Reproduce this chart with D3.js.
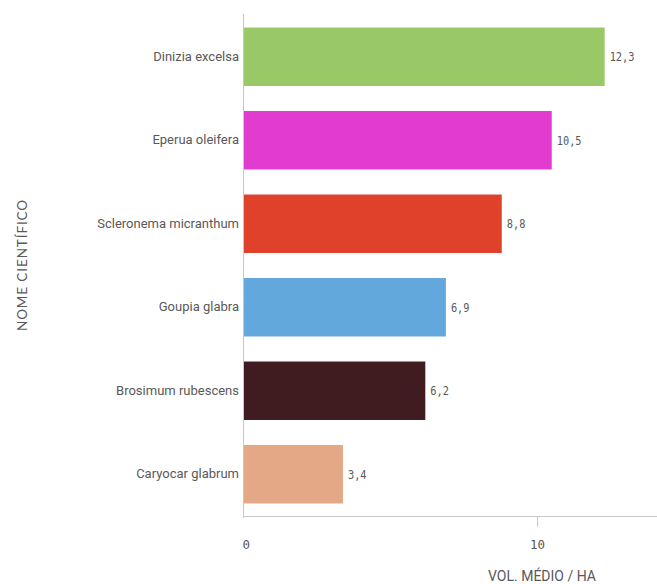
<!DOCTYPE html>
<html><head><meta charset="utf-8">
<script src="https://cdn.jsdelivr.net/npm/d3@7"></script>
<style>body{margin:0;background:#fff}</style>
</head><body>
<svg id="c" width="657" height="584"></svg>
<script>
const categories = ["Dinizia excelsa","Eperua oleifera","Scleronema micranthum","Goupia glabra","Brosimum rubescens","Caryocar glabrum"];
const values = [12.3, 10.5, 8.8, 6.9, 6.2, 3.4];
const valueLabels = ["12,3","10,5","8,8","6,9","6,2","3,4"];
const colors = ["#99c866","#e23bd0","#e0412a","#63a8dc","#401b20","#e5a887"];
const tickValues = [0, 10];
const xTitle = "VOL. MÉDIO / HA";
const yTitle = "NOME CIENTÍFICO";

const svg = d3.select("#c");
const x = d3.scaleLinear().domain([0, 14.08]).range([243, 657]);
const y = d3.scaleBand().domain(categories).range([15, 516]).paddingInner(0.3).paddingOuter(0.15);
const gray = "#595959";
const labelFont = "'Roboto',sans-serif";
const monoFont = "'DejaVu Sans Mono',monospace";

svg.selectAll("rect.bar").data(values).join("rect")
  .attr("class","bar")
  .attr("x", x(0)).attr("y",(d,i)=>y(categories[i]))
  .attr("width", d=>x(d)-x(0)).attr("height", y.bandwidth())
  .attr("fill",(d,i)=>colors[i]);

svg.selectAll("text.val").data(values).join("text")
  .attr("class","val")
  .attr("x", d=>x(d)+5).attr("y",(d,i)=>y(categories[i])+y.bandwidth()/2)
  .attr("dy","0.35em").attr("font-family",monoFont).attr("font-size",13)
  .attr("textLength",(d,i)=>valueLabels[i].length*6.2).attr("lengthAdjust","spacingAndGlyphs")
  .attr("fill",gray).text((d,i)=>valueLabels[i]);

// y axis
const yAxis = svg.append("g").attr("transform",`translate(${x(0)},0)`)
  .call(d3.axisLeft(y).tickSize(0).tickPadding(4));
yAxis.select(".domain").attr("stroke","#c8c8c8").attr("d","M0.5,14V518");
yAxis.selectAll("text").attr("font-family",labelFont).attr("font-size",13).attr("fill",gray);

// x axis
const xAxis = svg.append("g").attr("transform","translate(0,516)")
  .call(d3.axisBottom(x).tickValues(tickValues).tickSize(11).tickPadding(13).tickFormat(d3.format("d")));
xAxis.select(".domain").attr("stroke","#c8c8c8").attr("d",`M${x(0)},0.5H657`);
xAxis.selectAll(".tick line").attr("stroke","#c8c8c8");
xAxis.selectAll(".tick").filter(d=>d===0).select("line").remove();
xAxis.selectAll(".tick text").attr("font-family",monoFont).attr("font-size",13).attr("fill",gray)
  .attr("textLength",d=>String(d).length*7.5).attr("lengthAdjust","spacingAndGlyphs")
  .attr("text-anchor",d=>d===0?"start":"middle").attr("dx",d=>d===0?-1:0);

svg.append("text").attr("x",542).attr("y",581).attr("text-anchor","middle")
  .attr("font-family",labelFont).attr("font-size",14).attr("fill",gray).text(xTitle);
svg.append("text").attr("transform","translate(27,265) rotate(-90)").attr("text-anchor","middle")
  .attr("font-family","'Lato','Open Sans',sans-serif").attr("font-size",13.5).attr("letter-spacing",0.9)
  .attr("fill",gray).text(yTitle);
</script>
</body></html>
